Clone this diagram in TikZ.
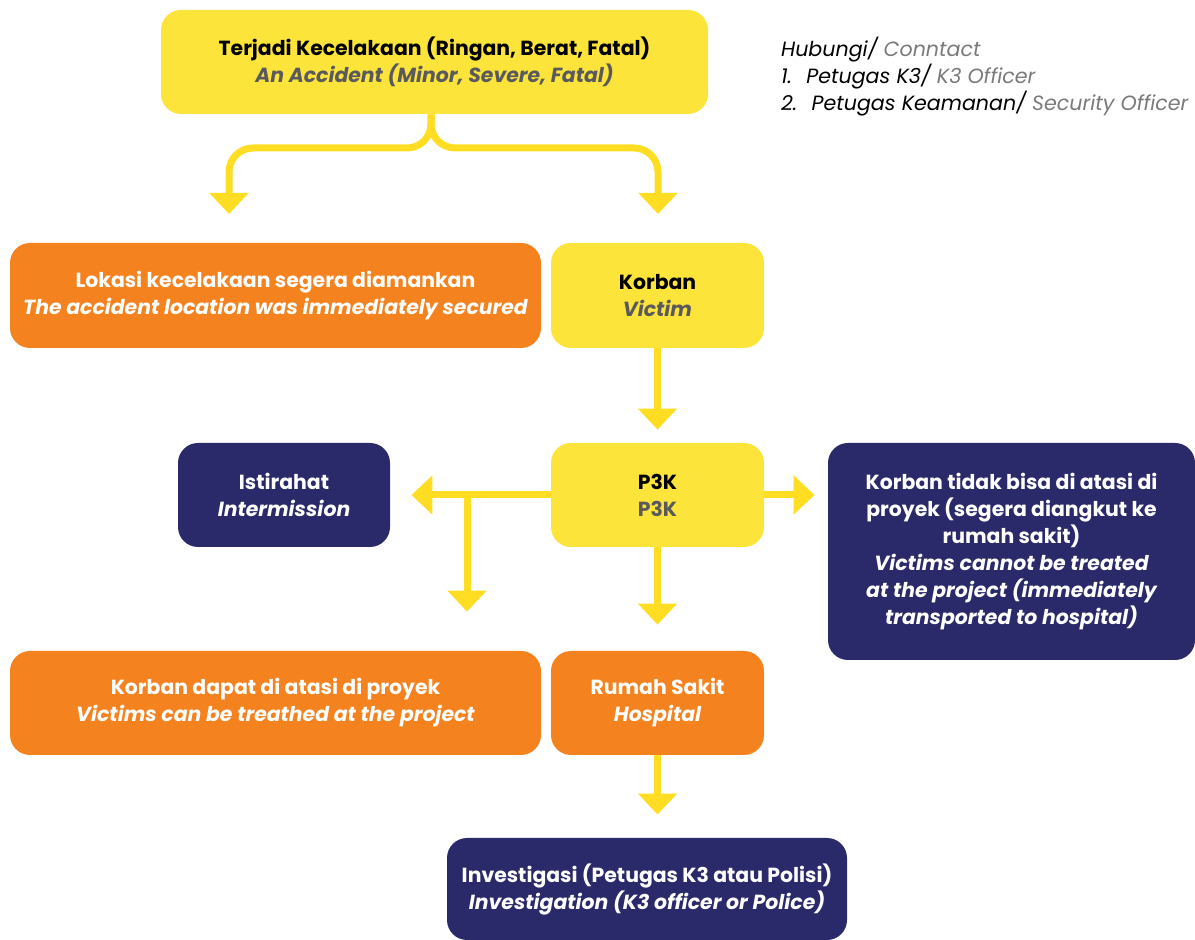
\documentclass[tikz,border=0pt]{standalone}
\usepackage{fontspec}
\setmainfont{Poppins}
\usetikzlibrary{arrows.meta}

\definecolor{boxyellow}{HTML}{FCE43A}
\definecolor{boxorange}{HTML}{F4821F}
\definecolor{boxnavy}{HTML}{2A2A6A}
\definecolor{flowyellow}{HTML}{FFDD22}
\definecolor{subgrey}{HTML}{5A5A5E}
\definecolor{notegrey}{HTML}{7A7A7A}

\begin{document}
\begin{tikzpicture}[x=0.5pt, y=-0.5pt,
  box/.style={rectangle, rounded corners=10pt, align=center, inner sep=4pt,
    font=\fontsize{10.2}{13.5}\selectfont\bfseries},
  yellowbox/.style={box, fill=boxyellow, text=black},
  orangebox/.style={box, fill=boxorange, text=white},
  navybox/.style={box, fill=boxnavy, text=white},
  flow/.style={draw=flowyellow, line width=3.5pt,
    -{Triangle[width=19pt, length=10.5pt]}},
  note/.style={anchor=north west, align=left,
    font=\fontsize{10.3}{13.5}\selectfont\itshape}]

% Set the page size
\useasboundingbox (0,0) rectangle (1195,940);

% Draw the boxes
\node[yellowbox, minimum width=273.5pt, minimum height=52pt] (acc) at (434.5,62)
  {Terjadi Kecelakaan (Ringan, Berat, Fatal)\\ \textcolor{subgrey}{\itshape An Accident (Minor, Severe, Fatal)}};
\node[orangebox, minimum width=265.5pt, minimum height=52.5pt] (lok) at (275.5,295.5)
  {Lokasi kecelakaan segera diamankan\\ \itshape The accident location was immediately secured};
\node[yellowbox, minimum width=106.5pt, minimum height=52.5pt] (korban) at (657.5,295.5)
  {Korban\\ \textcolor{subgrey}{\itshape Victim}};
\node[navybox, minimum width=106pt, minimum height=52pt] (ist) at (284,495)
  {Istirahat\\ \itshape Intermission};
\node[yellowbox, minimum width=106.5pt, minimum height=52pt] (p3k) at (657.5,495)
  {P3K\\ \textcolor{subgrey}{P3K}};
\node[navybox, minimum width=183.5pt, minimum height=108.5pt] (rujuk) at (1011.5,551.5)
  {Korban tidak bisa di atasi di\\ proyek (segera diangkut ke\\ rumah sakit)\\
   \itshape Victims cannot be treated\\ \itshape at the project (immediately\\ \itshape transported to hospital)};
\node[orangebox, minimum width=265.5pt, minimum height=52pt] (dapat) at (275.5,703)
  {Korban dapat di atasi di proyek\\ \itshape Victims can be treathed at the project};
\node[orangebox, minimum width=106.5pt, minimum height=52pt] (rs) at (657.5,703)
  {Rumah Sakit\\ \itshape Hospital};
\node[navybox, minimum width=200pt, minimum height=51pt] (inv) at (647,889)
  {Investigasi (Petugas K3 atau Polisi)\\ \itshape Investigation (K3 officer or Police)};

% Contact note
\node[note] (kontak) at (774,30)
  {Hubungi/ \textcolor{notegrey}{Conntact}\\
   1.\hspace{0.7em}Petugas K3/ \textcolor{notegrey}{K3 Officer}\\
   2.\hspace{0.7em}Petugas Keamanan/ \textcolor{notegrey}{Security Officer}};

% Arrows
\coordinate (split) at (431,148);
\coordinate (tipL) at (229,214);
\coordinate (tipR) at (658,214);
\coordinate (branch) at (467,495);
\draw[flow, rounded corners=12pt] (acc.south -| split) -- (split) -| (tipL);
\draw[flow, rounded corners=12pt] (acc.south -| split) -- (split) -| (tipR);
\draw[flow, shorten >=6.5pt] (korban) -- (p3k);
\draw[flow, shorten >=10.5pt] (p3k) -- (ist);
\draw[flow, shorten >=19.5pt] (branch) -- (branch |- dapat.north);
\draw[flow, shorten >=6.5pt] (p3k.east) -- (p3k.east -| rujuk.west);
\draw[flow, shorten >=13pt] (p3k) -- (rs);
\draw[flow, shorten >=11.5pt] (rs.south) -- (rs.south |- inv.north);
\end{tikzpicture}
\end{document}
